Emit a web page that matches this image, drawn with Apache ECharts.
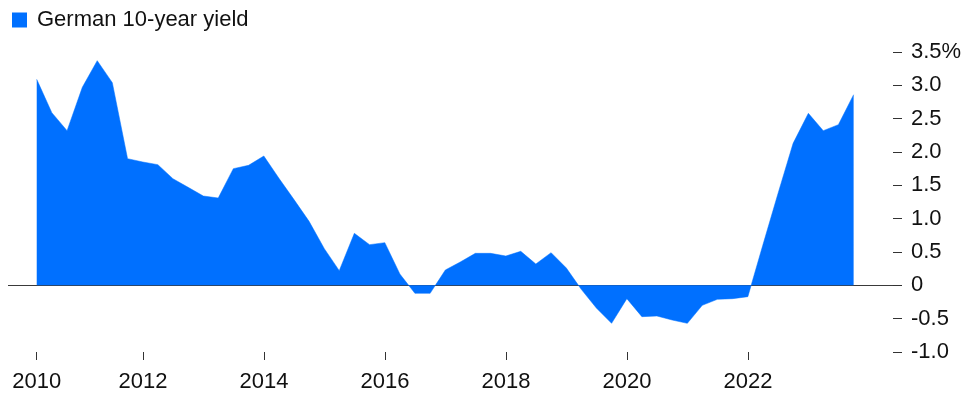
<!DOCTYPE html>
<html>
<head>
<meta charset="utf-8">
<script src="https://cdn.jsdelivr.net/npm/echarts@6/dist/echarts.min.js"></script>
<style>
html,body{margin:0;padding:0;background:#fff;}
#chart{width:975px;height:413px;}
</style>
</head>
<body>
<div id="chart"></div>
<script>
const seriesName = 'German 10-year yield';
const quarters = [
  '2010-03-31','2010-06-30','2010-09-30','2010-12-31',
  '2011-03-31','2011-06-30','2011-09-30','2011-12-31',
  '2012-03-31','2012-06-30','2012-09-30','2012-12-31',
  '2013-03-31','2013-06-30','2013-09-30','2013-12-31',
  '2014-03-31','2014-06-30','2014-09-30','2014-12-31',
  '2015-03-31','2015-06-30','2015-09-30','2015-12-31',
  '2016-03-31','2016-06-30','2016-09-30','2016-12-31',
  '2017-03-31','2017-06-30','2017-09-30','2017-12-31',
  '2018-03-31','2018-06-30','2018-09-30','2018-12-31',
  '2019-03-31','2019-06-30','2019-09-30','2019-12-31',
  '2020-03-31','2020-06-30','2020-09-30','2020-12-31',
  '2021-03-31','2021-06-30','2021-09-30','2021-12-31',
  '2022-03-31','2022-06-30','2022-09-30','2022-12-31',
  '2023-03-31','2023-06-30','2023-09-30'
];
const yields = [
  3.09, 2.59, 2.32, 2.97,
  3.37, 3.04, 1.90, 1.85,
  1.81, 1.60, 1.47, 1.34,
  1.31, 1.75, 1.80, 1.94,
  1.61, 1.29, 0.96, 0.55,
  0.22, 0.78, 0.61, 0.64,
  0.17, -0.12, -0.12, 0.23,
  0.35, 0.48, 0.48, 0.44,
  0.51, 0.32, 0.49, 0.26,
  -0.06, -0.34, -0.57, -0.20,
  -0.47, -0.46, -0.52, -0.57,
  -0.30, -0.21, -0.20, -0.17,
  0.60, 1.37, 2.13, 2.58,
  2.32, 2.41, 2.86
];
const tickDates = ['2010-03-31','2012-01-01','2014-01-01','2016-01-01','2018-01-01','2020-01-01','2022-01-01'];
const tickLabels = ['2010','2012','2014','2016','2018','2020','2022'];
const yTicks = [-1.0, -0.5, 0, 0.5, 1.0, 1.5, 2.0, 2.5, 3.0, 3.5];

// convert a date string to a decimal year (position on the axis)
function toYear(s){
  const p = s.split('-').map(Number);
  const start = Date.UTC(p[0], 0, 1), end = Date.UTC(p[0] + 1, 0, 1);
  return p[0] + (Date.UTC(p[0], p[1]-1, p[2]) - start) / (end - start);
}
const tickPos = tickDates.map(toYear);
const data = quarters.map((q, i) => [toYear(q), yields[i]]);

const FONT = '"Liberation Sans", Arial, Helvetica, sans-serif';
const chart = echarts.init(document.getElementById('chart'), null, {renderer:'canvas'});
chart.setOption({
  animation: false,
  backgroundColor: '#ffffff',
  textStyle: { fontFamily: FONT },
  legend: {
    show: true,
    left: 12, top: 9,
    padding: 0,
    itemWidth: 15, itemHeight: 15,
    icon: 'rect',
    selectedMode: false,
    textStyle: { fontSize: 22, color: '#111', fontFamily: FONT, padding: [0,0,0,5] },
    data: [{ name: seriesName, itemStyle: { color: '#0070ff' } }]
  },
  grid: { left: 8, right: 73, top: 52, bottom: 61, containLabel: false },
  xAxis: {
    type: 'value',
    min: 2009.769,
    max: 2024.545,
    axisLine: { show: false, onZero: false },
    splitLine: { show: false },
    axisTick: { show: true, length: 8, customValues: tickPos, lineStyle: { color: '#333', width: 1 } },
    axisLabel: {
      customValues: tickPos,
      margin: 19,
      fontSize: 22,
      color: '#111',
      fontFamily: FONT,
      formatter: function (v) {
        let best = 0;
        tickPos.forEach((t, i) => { if (Math.abs(t - v) < Math.abs(tickPos[best] - v)) best = i; });
        return tickLabels[best];
      }
    }
  },
  yAxis: {
    type: 'value',
    position: 'right',
    min: -1, max: 3.5, interval: 0.5,
    axisLine: { show: false },
    axisTick: { show: true, inside: true, length: 9, lineStyle: { color: '#333', width: 1 } },
    splitLine: {
      show: true,
      lineStyle: {
        width: 1,
        color: yTicks.map(t => t === 0 ? '#3a3a3a' : 'rgba(0,0,0,0)')
      }
    },
    axisLabel: {
      margin: 9,
      fontSize: 22,
      color: '#111',
      align: 'left',
      fontFamily: FONT,
      formatter: function (v) {
        if (v === 0) return '0';
        if (v === 3.5) return '3.5%';
        return v.toFixed(1);
      }
    }
  },
  series: [{
    name: seriesName,
    type: 'line',
    data: data,
    symbol: 'none',
    showSymbol: false,
    lineStyle: { width: 0.5, color: '#0070ff' },
    itemStyle: { color: '#0070ff' },
    areaStyle: { color: '#0070ff', opacity: 1 }
  }]
});
</script>
</body>
</html>
